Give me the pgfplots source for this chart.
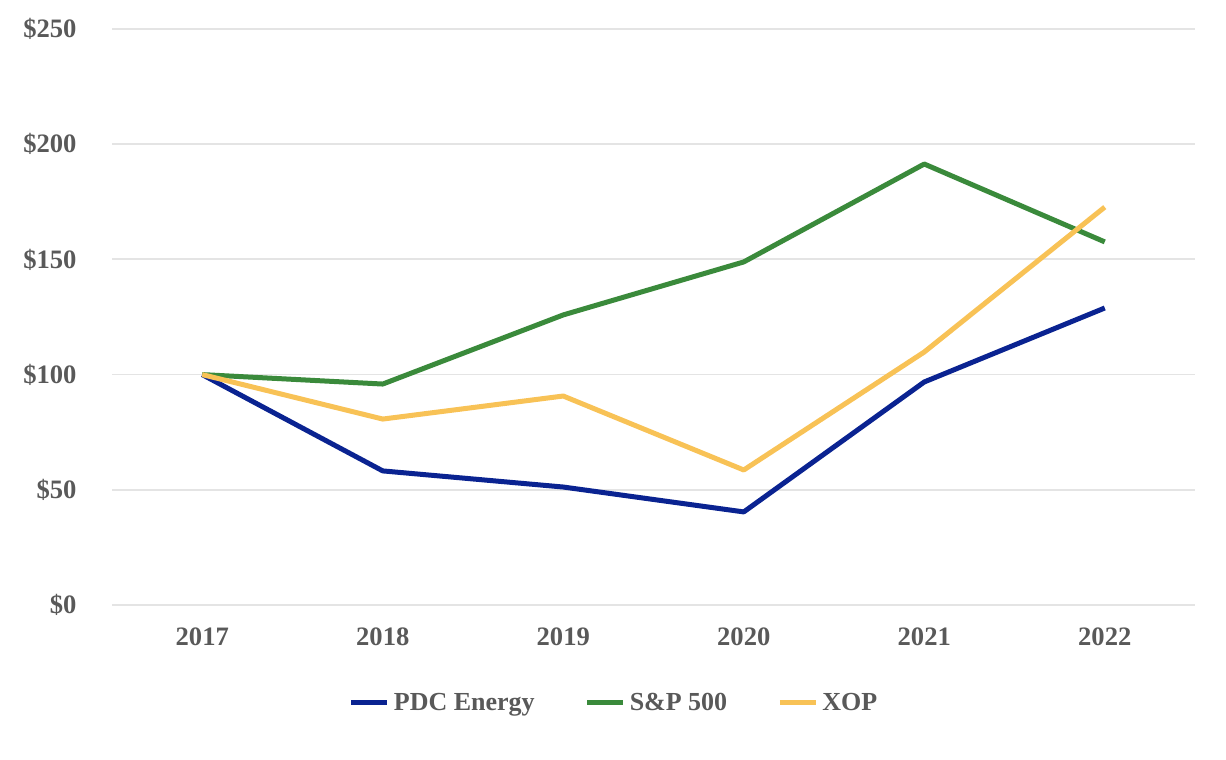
\documentclass[border=0pt]{standalone}
\usepackage{fontspec}
\setmainfont{Liberation Serif}
\usepackage{pgfplots}
\pgfplotsset{compat=1.18}
\definecolor{pdcblue}{HTML}{0A2391}
\definecolor{spgreen}{HTML}{3A8A3B}
\definecolor{xopyellow}{HTML}{F8C256}
\definecolor{labelgray}{HTML}{595959}
\definecolor{gridgray}{HTML}{E4E4E4}
\begin{document}
\begin{tikzpicture}
\useasboundingbox (0,0) rectangle (613pt,380pt);
\begin{axis}[
  at={(56pt,77.5pt)}, anchor=south west,
  scale only axis,
  width=541.5pt, height=288pt,
  xmin=2016.5, xmax=2022.5,
  ymin=0, ymax=250,
  xtick={2017,2018,2019,2020,2021,2022},
  ytick={0,50,100,150,200,250},
  x tick label style={/pgf/number format/set thousands separator={}, anchor=north, yshift=-10pt},
  yticklabel={\$\pgfmathprintnumber{\tick}},
  y tick label style={anchor=east, xshift=-16.5pt},
  /pgf/number format/assume math mode=true,
  tick label style={font=\fontsize{13.3}{15}\selectfont\bfseries, text=labelgray, inner sep=0pt},
  major tick length=0pt,
  axis line style={draw=none},
  ymajorgrids,
  grid style={gridgray, line width=0.9pt},
  legend columns=3,
  legend style={at={(0.4645,-0.17)}, anchor=center, draw=none, fill=none,
    font=\fontsize{13}{15}\selectfont\bfseries, text=labelgray,
    /tikz/every even column/.append style={column sep=23pt}},
  legend image code/.code={\draw[#1] (0pt,0pt) -- (18pt,0pt);},
  line width=2.5pt,
]
\addplot[pdcblue, line join=round] coordinates {
  (2017,100) (2018,58.2) (2019,51.2) (2020,40.4) (2021,96.8) (2022,128.9)
};
\addlegendentry{PDC Energy}
\addplot[spgreen, line join=round] coordinates {
  (2017,100) (2018,95.9) (2019,125.9) (2020,148.9) (2021,191.4) (2022,157.6)
};
\addlegendentry{S\&P 500}
\addplot[xopyellow, line join=round] coordinates {
  (2017,100) (2018,80.7) (2019,90.7) (2020,58.6) (2021,109.8) (2022,172.7)
};
\addlegendentry{XOP}
\end{axis}
\end{tikzpicture}
\end{document}
